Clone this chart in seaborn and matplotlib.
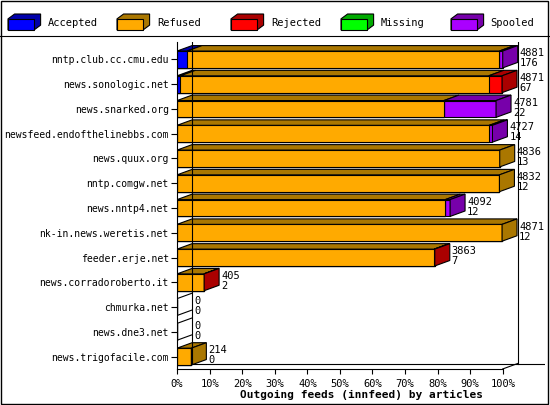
import numpy as np
import pandas as pd
import matplotlib
matplotlib.use("Agg")
import matplotlib.pyplot as plt
from matplotlib.patches import Polygon, Rectangle
import seaborn as sns

sites = ["nntp.club.cc.cmu.edu", "news.sonologic.net", "news.snarked.org",
         "newsfeed.endofthelinebbs.com", "news.quux.org", "nntp.comgw.net",
         "news.nntp4.net", "nk-in.news.weretis.net", "feeder.erje.net",
         "news.corradoroberto.it", "chmurka.net", "news.dne3.net",
         "news.trigofacile.com"]
accepted = [150, 50, 0, 0, 0, 0, 0, 0, 0, 0, 0, 0, 0]
refused = [4681, 4621, 4000, 4680, 4836, 4832, 4020, 4871, 3853, 402, 0, 0, 214]
rejected = [0, 200, 0, 0, 0, 0, 0, 0, 10, 3, 0, 0, 0]
missing = [0, 0, 0, 0, 0, 0, 0, 0, 0, 0, 0, 0, 0]
spooled = [50, 0, 781, 47, 0, 0, 72, 0, 0, 0, 0, 0, 0]
second = [176, 67, 22, 14, 13, 12, 12, 12, 7, 2, 0, 0, 0]

cats = ["Accepted", "Refused", "Rejected", "Missing", "Spooled"]
face = ["#0000ff", "#ffaa00", "#ff0000", "#00ff00", "#aa00ff"]
dark = ["#0000aa", "#aa7700", "#aa0000", "#00aa00", "#7700aa"]

df = pd.DataFrame({"site": sites, "Accepted": accepted, "Refused": refused,
                   "Rejected": rejected, "Missing": missing, "Spooled": spooled})
df["total"] = df[cats].sum(axis=1)
mx = df["total"].max()
pct = df[cats].div(mx).mul(100)
cum = pct.cumsum(axis=1)

fig = plt.figure(figsize=(5.5, 4.05), dpi=100)
ax = fig.add_axes([0.322, 0.089, 0.669, 0.807])
H = 0.68
DX, DY = 4.6, 0.22

# stacked front faces, drawn longest first
for i in reversed(range(len(cats))):
    sns.barplot(x=cum[cats[i]], y=df["site"], color=face[i], orient="h",
                width=H, edgecolor="black", linewidth=0.8, ax=ax, saturation=1)

for r in range(len(sites)):
    yt = r - H / 2
    yb = r + H / 2
    start = 0.0
    last = None
    for i, c in enumerate(cats):
        w = pct.loc[r, c]
        if w <= 0:
            continue
        ax.add_patch(Polygon([[start, yt], [start + DX, yt - DY], [start + w + DX, yt - DY],
                              [start + w, yt]], closed=True, fc=dark[i], ec="black", lw=0.8))
        start += w
        last = i
    if last is not None:
        ax.add_patch(Polygon([[start, yt], [start + DX, yt - DY], [start + DX, yb - DY],
                              [start, yb]], closed=True, fc=dark[last], ec="black", lw=0.8))
    else:
        ax.plot([0, DX], [yt, yt - DY], color="black", lw=0.8)
        ax.plot([0, DX], [yb, yb - DY], color="black", lw=0.8)
    tx = start + DX + 0.6
    ax.text(tx, r - 0.05, str(int(df.loc[r, "total"])), fontsize=7.5, va="bottom",
            family="DejaVu Sans Mono")
    ax.text(tx, r - 0.05, str(second[r]), fontsize=7.5, va="top",
            family="DejaVu Sans Mono")

# 3D frame
ax.plot([DX, DX], [-0.7, 12.5 - DY], color="black", lw=0.8)
ax.plot([100 + DX, 100 + DX], [-0.7, 12.5 - DY], color="black", lw=0.8)
ax.plot([DX, 113], [12.5 - DY, 12.5 - DY], color="black", lw=0.8)
ax.plot([100, 100 + DX], [12.5, 12.5 - DY], color="black", lw=0.8)

ax.set_xlim(0, 113)
ax.set_ylim(12.5, -0.7)
ax.set_xticks(range(0, 101, 10))
ax.set_xticklabels([f"{v}%" for v in range(0, 101, 10)], family="DejaVu Sans Mono", fontsize=7.5)
ax.tick_params(axis="y", labelsize=7, length=4, pad=2)
for lab in ax.get_yticklabels():
    lab.set_family("DejaVu Sans Mono")
ax.set_ylabel("")
ax.set_xlabel("Outgoing feeds (innfeed) by articles", fontsize=8, fontweight="bold",
              family="DejaVu Sans Mono", labelpad=1)
for s in ["top", "right"]:
    ax.spines[s].set_visible(False)
ax.spines["bottom"].set_bounds(0, 100)
ax.spines["left"].set_bounds(-0.7, 12.5)

# legend row
fig.add_artist(Rectangle((0.002, 0.002), 0.995, 0.995, transform=fig.transFigure,
                         fill=False, ec="black", lw=1))
fig.add_artist(plt.Line2D([0, 1], [0.91, 0.91], transform=fig.transFigure, color="black", lw=0.8))
lx = [8, 117, 231, 341, 451]
for i, c in enumerate(cats):
    x0 = lx[i] / 550
    y0 = 1 - 30 / 405
    w, h = 26 / 550, 16 / 405
    fig.add_artist(Polygon([[x0, y0], [x0 + w, y0], [x0 + w + 0.012, y0 + 0.012],
                            [x0 + w + 0.012, y0 + h], [x0 + 0.012, y0 + h], [x0, y0 + h - 0.012]],
                           closed=True, fc=dark[i], ec="black", lw=0.8, transform=fig.transFigure))
    fig.add_artist(Rectangle((x0, y0), w, h - 0.012, fc=face[i], ec="black", lw=0.8,
                             transform=fig.transFigure))
    fig.text(x0 + w + 0.025, y0 + 0.018, c, fontsize=7.5, va="center", family="DejaVu Sans Mono")

fig.savefig("out.png", dpi=100)
